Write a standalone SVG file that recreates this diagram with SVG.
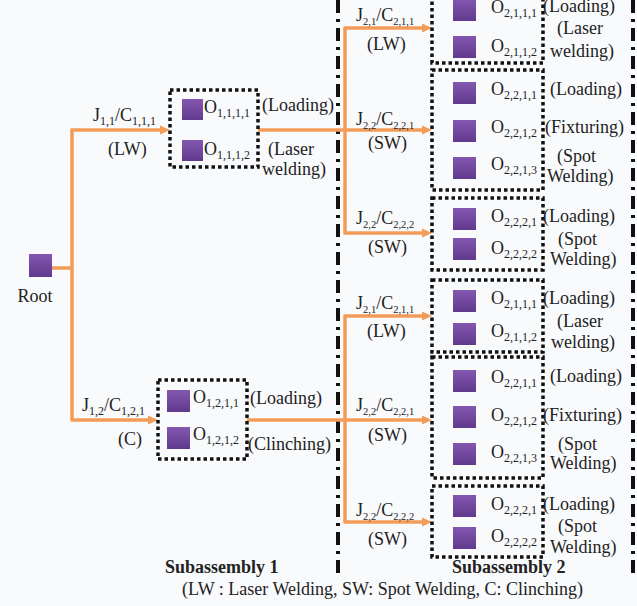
<svg xmlns="http://www.w3.org/2000/svg" width="637" height="606" viewBox="0 0 637 606" font-family="'Liberation Serif', 'Times New Roman', Times, serif">
<style>
text{font-family:'Liberation Serif','Times New Roman',Times,serif;font-size:18px;fill:#222}
.s{font-size:12px}
.sj{font-size:10.5px}
.b{font-weight:bold}
.box{fill:none;stroke:#111;stroke-width:3.5;stroke-dasharray:3.5 3}
.sq{fill:url(#pg)}
.c{fill:none;stroke:#f39c58;stroke-width:3.5}
.dd{fill:none;stroke:#111;stroke-width:4;stroke-dasharray:13 6 3 6}
</style>
<defs>
<linearGradient id="pg" x1="0" y1="0" x2="0" y2="1">
<stop offset="0" stop-color="#8457b0"/>
<stop offset="1" stop-color="#603a8c"/>
</linearGradient>
<marker id="ar" markerUnits="userSpaceOnUse" markerWidth="11" markerHeight="10" refX="4" refY="5" orient="auto">
<path d="M0,0.5 L10,5 L0,9.5 z" fill="#f39c58"/>
</marker>
</defs>
<rect width="637" height="606" fill="#f9fafc"/>

<g id="separators">
<line class="dd" x1="338" y1="0" x2="338" y2="575"/>
<line class="dd" x1="633" y1="0" x2="633" y2="575"/>
</g>

<g id="connectors">
<path class="c" d="M52,268 H72"/>
<path class="c" d="M72,130 V420"/>
<path class="c" d="M70.5,130 H164" marker-end="url(#ar)"/>
<path class="c" d="M70.5,420 H152" marker-end="url(#ar)"/>
<path class="c" d="M258,130 H345"/>
<path class="c" d="M345,28 V233"/>
<path class="c" d="M343.5,28 H426" marker-end="url(#ar)"/>
<path class="c" d="M345,130 H426" marker-end="url(#ar)"/>
<path class="c" d="M343.5,233 H426" marker-end="url(#ar)"/>
<path class="c" d="M247,420 H345"/>
<path class="c" d="M345,316 V522"/>
<path class="c" d="M343.5,316 H426" marker-end="url(#ar)"/>
<path class="c" d="M345,420 H426" marker-end="url(#ar)"/>
<path class="c" d="M343.5,522 H426" marker-end="url(#ar)"/>
</g>

<g id="connector-labels" font-family="Liberation Serif">
<text x="93" y="121">J<tspan class="s" dy="4">1,1</tspan><tspan dy="-4">/C</tspan><tspan class="s" dy="4">1,1,1</tspan></text>
<text x="108" y="155">(LW)</text>
<text x="82" y="411">J<tspan class="s" dy="4">1,2</tspan><tspan dy="-4">/C</tspan><tspan class="s" dy="4">1,2,1</tspan></text>
<text x="118" y="445">(C)</text>

<text x="356" y="21">J<tspan class="sj" dy="4">2,1</tspan><tspan dy="-4">/C</tspan><tspan class="sj" dy="4">2,1,1</tspan></text>
<text x="367" y="50">(LW)</text>
<text x="356" y="125">J<tspan class="sj" dy="4">2,2</tspan><tspan dy="-4">/C</tspan><tspan class="sj" dy="4">2,2,1</tspan></text>
<text x="368" y="149">(SW)</text>
<text x="356" y="224">J<tspan class="sj" dy="4">2,2</tspan><tspan dy="-4">/C</tspan><tspan class="sj" dy="4">2,2,2</tspan></text>
<text x="368" y="253">(SW)</text>

<text x="356" y="309">J<tspan class="sj" dy="4">2,1</tspan><tspan dy="-4">/C</tspan><tspan class="sj" dy="4">2,1,1</tspan></text>
<text x="367" y="337">(LW)</text>
<text x="356" y="411">J<tspan class="sj" dy="4">2,2</tspan><tspan dy="-4">/C</tspan><tspan class="sj" dy="4">2,2,1</tspan></text>
<text x="368" y="441">(SW)</text>
<text x="356" y="516">J<tspan class="sj" dy="4">2,2</tspan><tspan dy="-4">/C</tspan><tspan class="sj" dy="4">2,2,2</tspan></text>
<text x="368" y="545">(SW)</text>
</g>

<g id="root">
<rect class="sq" x="29" y="254" width="23" height="23"/>
<text x="35" y="302" text-anchor="middle">Root</text>
</g>

<g id="s1-op-laser">
<rect class="box" x="170" y="90" width="88" height="77"/>
<rect class="sq" x="182" y="99" width="21" height="21"/>
<rect class="sq" x="182" y="140" width="21" height="21"/>
<text x="204" y="113">O<tspan class="s" dy="4">1,1,1,1</tspan></text>
<text x="204" y="155">O<tspan class="s" dy="4">1,1,1,2</tspan></text>
<text x="262" y="111">(Loading)</text>
<text x="268" y="155">(Laser</text>
<text x="262" y="175">welding)</text>
</g>

<g id="s1-op-clinch">
<rect class="box" x="158" y="380" width="89" height="79"/>
<rect class="sq" x="167" y="390" width="23" height="22"/>
<rect class="sq" x="167" y="427" width="23" height="22"/>
<text x="193" y="403">O<tspan class="s" dy="4">1,2,1,1</tspan></text>
<text x="193" y="440">O<tspan class="s" dy="4">1,2,1,2</tspan></text>
<text x="250" y="404">(Loading)</text>
<text x="248" y="450">(Clinching)</text>
</g>

<g id="s2-a-laser">
<rect class="box" x="432" y="-8" width="111" height="71"/>
<rect class="sq" x="453" y="-1" width="23" height="22"/>
<rect class="sq" x="453" y="36" width="23" height="22"/>
<text x="491" y="13">O<tspan class="s" dy="4">2,1,1,1</tspan></text>
<text x="491" y="52">O<tspan class="s" dy="4">2,1,1,2</tspan></text>
<text x="543" y="12">(Loading)</text>
<text x="557" y="34">(Laser</text>
<text x="550" y="57">welding)</text>
</g>

<g id="s2-a-spot3">
<rect class="box" x="432" y="70" width="111" height="120"/>
<rect class="sq" x="453" y="82" width="23" height="22"/>
<rect class="sq" x="453" y="120" width="23" height="22"/>
<rect class="sq" x="453" y="157" width="23" height="22"/>
<text x="491" y="95">O<tspan class="s" dy="4">2,2,1,1</tspan></text>
<text x="491" y="133">O<tspan class="s" dy="4">2,2,1,2</tspan></text>
<text x="491" y="170">O<tspan class="s" dy="4">2,2,1,3</tspan></text>
<text x="550" y="95">(Loading)</text>
<text x="545" y="133">(Fixturing)</text>
<text x="557" y="162">(Spot</text>
<text x="547" y="182">Welding)</text>
</g>

<g id="s2-a-spot2">
<rect class="box" x="432" y="198" width="111" height="72"/>
<rect class="sq" x="453" y="208" width="23" height="22"/>
<rect class="sq" x="453" y="238" width="23" height="22"/>
<text x="491" y="222">O<tspan class="s" dy="4">2,2,2,1</tspan></text>
<text x="491" y="254">O<tspan class="s" dy="4">2,2,2,2</tspan></text>
<text x="543" y="222">(Loading)</text>
<text x="558" y="245">(Spot</text>
<text x="550" y="265">Welding)</text>
</g>

<g id="s2-b-laser">
<rect class="box" x="432" y="280" width="111" height="72"/>
<rect class="sq" x="453" y="290" width="23" height="22"/>
<rect class="sq" x="453" y="323" width="23" height="22"/>
<text x="491" y="304">O<tspan class="s" dy="4">2,1,1,1</tspan></text>
<text x="491" y="337">O<tspan class="s" dy="4">2,1,1,2</tspan></text>
<text x="543" y="304">(Loading)</text>
<text x="557" y="327">(Laser</text>
<text x="551" y="348">welding)</text>
</g>

<g id="s2-b-spot3">
<rect class="box" x="432" y="357" width="111" height="121"/>
<rect class="sq" x="453" y="370" width="23" height="22"/>
<rect class="sq" x="453" y="406" width="23" height="22"/>
<rect class="sq" x="453" y="443" width="23" height="22"/>
<text x="491" y="383">O<tspan class="s" dy="4">2,2,1,1</tspan></text>
<text x="491" y="421">O<tspan class="s" dy="4">2,2,1,2</tspan></text>
<text x="491" y="458">O<tspan class="s" dy="4">2,2,1,3</tspan></text>
<text x="550" y="382">(Loading)</text>
<text x="543" y="421">(Fixturing)</text>
<text x="558" y="450">(Spot</text>
<text x="550" y="469">Welding)</text>
</g>

<g id="s2-b-spot2">
<rect class="box" x="432" y="486" width="111" height="71"/>
<rect class="sq" x="453" y="495" width="23" height="22"/>
<rect class="sq" x="453" y="527" width="23" height="22"/>
<text x="491" y="510">O<tspan class="s" dy="4">2,2,2,1</tspan></text>
<text x="491" y="542">O<tspan class="s" dy="4">2,2,2,2</tspan></text>
<text x="543" y="510">(Loading)</text>
<text x="558" y="532">(Spot</text>
<text x="550" y="553">Welding)</text>
</g>

<g id="captions">
<text class="b" x="165" y="573">Subassembly 1</text>
<text class="b" x="452" y="573">Subassembly 2</text>
<text x="182" y="595">(LW : Laser Welding, SW: Spot Welding, C: Clinching)</text>
</g>
</svg>
